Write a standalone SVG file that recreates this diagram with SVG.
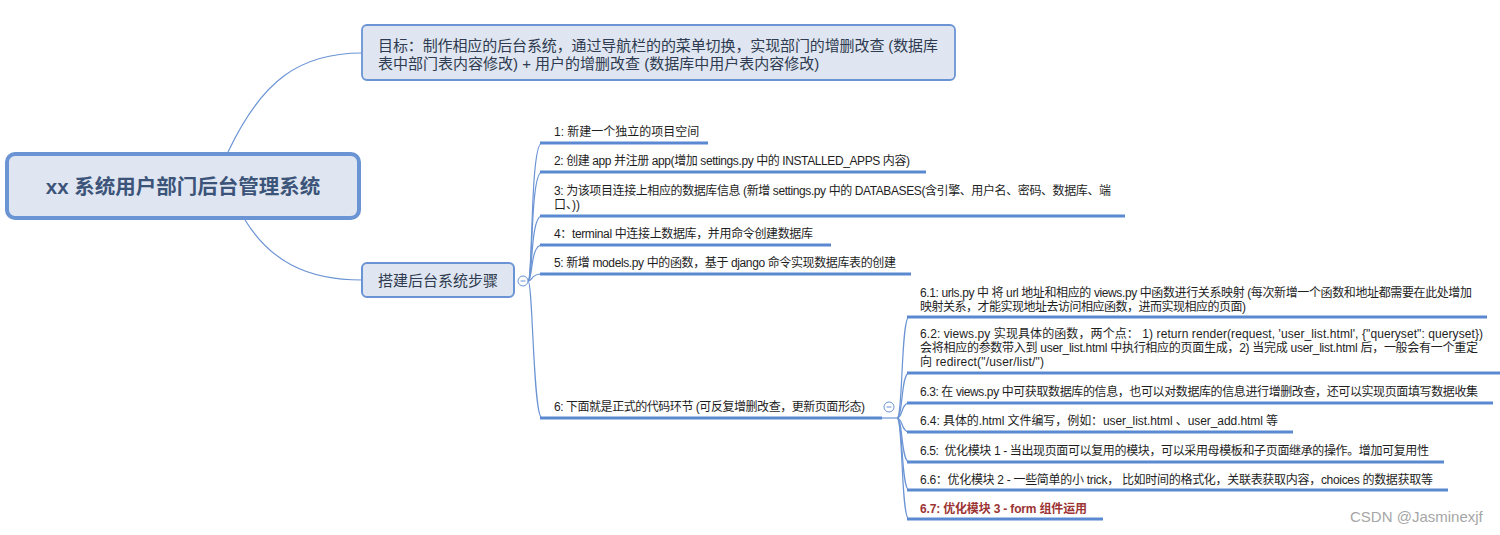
<svg xmlns="http://www.w3.org/2000/svg" width="1500" height="535" viewBox="0 0 1500 535">
<style>
.bg{fill:#ffffff}
.box{fill:#dfe6f1;stroke:#6a94d3}
.conn{fill:none;stroke:#6b94d4;stroke-width:1.2}
.ul{stroke:#5a89d2;stroke-width:3;stroke-linecap:butt}
.t{font-family:"Liberation Sans","Noto Sans CJK SC",sans-serif;font-size:12px;fill:#1e1e1e;white-space:pre}
.red{fill:#9c3434;font-weight:bold}
.big{font-family:"Liberation Sans","Noto Sans CJK SC",sans-serif;font-size:15px;fill:#2f3b50;white-space:pre}
.root{font-family:"Liberation Sans","Noto Sans CJK SC",sans-serif;font-size:20.5px;font-weight:bold;fill:#3c5479}
.btn{fill:#ffffff;stroke:#6b94d4;stroke-width:1}
.dash{stroke:#6b94d4;stroke-width:1}
.wm{font-family:"Liberation Sans","Noto Sans",sans-serif;font-size:15px;fill:#a6a6a6}
</style>
<rect class="bg" x="0" y="0" width="1500" height="535"/>

<g id="connectors">
  <path class="conn" d="M228,152 C262,80 300,53 362,53"/>
  <path class="conn" d="M245,220 C270,260 305,280 362,280"/>
  <path class="conn" d="M528,281 C533,281 530,143 542,143"/>
  <path class="conn" d="M528,281 C533,281 530,172 542,172"/>
  <path class="conn" d="M528,281 C533,281 530,216 542,216"/>
  <path class="conn" d="M528,281 C533,281 530,245 542,245"/>
  <path class="conn" d="M528,281 C533,281 530,274 542,274"/>
  <path class="conn" d="M528,281 C533,281 533,418 542,418"/>
  <path class="conn" d="M882,418 L897,418"/>
  <path class="conn" d="M897,418 C903,418 901,317 909,317"/>
  <path class="conn" d="M897,418 C903,418 901,373 909,373"/>
  <path class="conn" d="M897,418 C903,418 901,403 909,403"/>
  <path class="conn" d="M897,418 C903,418 901,432 909,432"/>
  <path class="conn" d="M897,418 C903,418 901,462 909,462"/>
  <path class="conn" d="M897,418 C903,418 901,490 909,490"/>
  <path class="conn" d="M897,418 C903,418 901,519 909,519"/>
</g>

<g id="root">
  <rect class="box" x="7" y="154" width="352" height="64" rx="8" stroke-width="4"/>
  <text class="root" x="183" y="194" text-anchor="middle">xx 系统用户部门后台管理系统</text>
</g>

<g id="goal">
  <rect class="box" x="362" y="25" width="593" height="55" rx="5" stroke-width="1.8"/>
  <text class="big" x="378" y="50.5" textLength="560" lengthAdjust="spacing">目标：制作相应的后台系统，通过导航栏的的菜单切换，实现部门的增删改查 (数据库</text>
  <text class="big" x="378" y="68.5">表中部门表内容修改) + 用户的增删改查 (数据库中用户表内容修改)</text>
</g>

<g id="steps">
  <rect class="box" x="362" y="263" width="152" height="34" rx="5" stroke-width="2"/>
  <text class="big" x="438" y="285.5" text-anchor="middle">搭建后台系统步骤</text>
  <circle class="btn" cx="523" cy="281" r="5"/>
  <line class="dash" x1="520.5" y1="281" x2="525.5" y2="281"/>
</g>

<g id="step1">
  <line class="ul" x1="540" y1="143" x2="708" y2="143"/>
  <text class="t" x="554" y="136">1: 新建一个独立的项目空间</text>
</g>
<g id="step2">
  <line class="ul" x1="540" y1="172" x2="926" y2="172"/>
  <text class="t" x="554" y="165" textLength="356" lengthAdjust="spacing">2: 创建 app 并注册 app(增加 settings.py 中的 INSTALLED_APPS 内容)</text>
</g>
<g id="step3">
  <line class="ul" x1="540" y1="216" x2="1125" y2="216"/>
  <text class="t" x="554" y="194.5" textLength="557" lengthAdjust="spacing">3: 为该项目连接上相应的数据库信息 (新增 settings.py 中的 DATABASES(含引擎、用户名、密码、数据库、端</text>
  <text class="t" x="554" y="208.5">口、))</text>
</g>
<g id="step4">
  <line class="ul" x1="540" y1="245" x2="831" y2="245"/>
  <text class="t" x="554" y="237.5" textLength="259" lengthAdjust="spacing">4：terminal 中连接上数据库，并用命令创建数据库</text>
</g>
<g id="step5">
  <line class="ul" x1="540" y1="274" x2="911" y2="274"/>
  <text class="t" x="554" y="266.5" textLength="342" lengthAdjust="spacing">5: 新增 models.py 中的函数，基于 django 命令实现数据库表的创建</text>
</g>
<g id="step6">
  <line class="ul" x1="540" y1="418" x2="882" y2="418"/>
  <text class="t" x="554" y="410.5" textLength="311" lengthAdjust="spacing">6: 下面就是正式的代码环节 (可反复增删改查，更新页面形态)</text>
  <circle class="btn" cx="889" cy="407" r="5"/>
  <line class="dash" x1="886.5" y1="407" x2="891.5" y2="407"/>
</g>

<g id="step6-1">
  <line class="ul" x1="907" y1="317" x2="1487" y2="317"/>
  <text class="t" x="920" y="297" textLength="552" lengthAdjust="spacing">6.1: urls.py 中 将 url 地址和相应的 views.py 中函数进行关系映射 (每次新增一个函数和地址都需要在此处增加</text>
  <text class="t" x="920" y="310.5" textLength="326" lengthAdjust="spacing">映射关系，才能实现地址去访问相应函数，进而实现相应的页面)</text>
</g>
<g id="step6-2">
  <line class="ul" x1="907" y1="373" x2="1500" y2="373"/>
  <text class="t" x="920" y="337.5" textLength="563" lengthAdjust="spacing">6.2: views.py 实现具体的函数，两个点： 1) return render(request, 'user_list.html', {"queryset": queryset})</text>
  <text class="t" x="920" y="351.5" textLength="558" lengthAdjust="spacing">会将相应的参数带入到 user_list.html 中执行相应的页面生成，2) 当完成 user_list.html 后，一般会有一个重定</text>
  <text class="t" x="920" y="365.5" textLength="124" lengthAdjust="spacing">向 redirect("/user/list/")</text>
</g>
<g id="step6-3">
  <line class="ul" x1="907" y1="403" x2="1493" y2="403"/>
  <text class="t" x="920" y="395.5" textLength="558" lengthAdjust="spacing">6.3: 在 views.py 中可获取数据库的信息，也可以对数据库的信息进行增删改查，还可以实现页面填写数据收集</text>
</g>
<g id="step6-4">
  <line class="ul" x1="907" y1="432" x2="1293" y2="432"/>
  <text class="t" x="920" y="424.5" textLength="358" lengthAdjust="spacing">6.4: 具体的.html 文件编写，例如：user_list.html 、user_add.html 等</text>
</g>
<g id="step6-5">
  <line class="ul" x1="907" y1="462" x2="1444" y2="462"/>
  <text class="t" x="920" y="454.5" textLength="509" lengthAdjust="spacing">6.5:  优化模块 1 - 当出现页面可以复用的模块，可以采用母模板和子页面继承的操作。增加可复用性</text>
</g>
<g id="step6-6">
  <line class="ul" x1="907" y1="490" x2="1448" y2="490"/>
  <text class="t" x="920" y="483.5" textLength="513" lengthAdjust="spacing">6.6：优化模块 2 - 一些简单的小 trick， 比如时间的格式化，关联表获取内容，choices 的数据获取等</text>
</g>
<g id="step6-7">
  <line class="ul" x1="907" y1="519" x2="1103" y2="519"/>
  <text class="t red" x="920" y="512.5" textLength="167" lengthAdjust="spacing">6.7: 优化模块 3 - form 组件运用</text>
</g>

<text class="wm" x="1350" y="522">CSDN @Jasminexjf</text>
</svg>
